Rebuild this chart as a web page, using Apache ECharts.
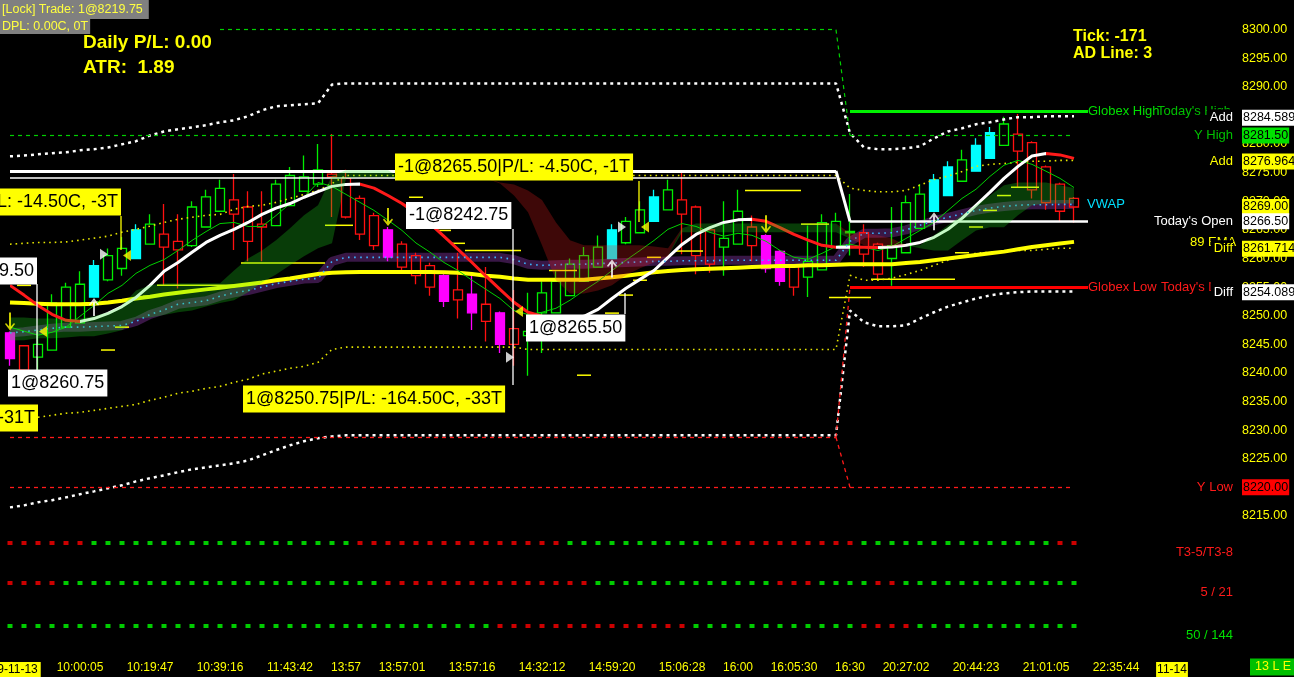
<!DOCTYPE html>
<html>
<head>
<meta charset="utf-8">
<script src="https://cdn.jsdelivr.net/npm/echarts@6/dist/echarts.min.js"></script>
<style>
html,body{margin:0;padding:0;background:#000;overflow:hidden;}
#chart{width:1294px;height:677px;}
</style>
</head>
<body>
<div id="chart"></div>
<script>
// ================= DATA =================
const tickIndex = [0,5,10,15,20,24,28,33,38,43,48,52,56,60,64,69,74,79,83];
const tickText  = ['9-11-13','10:00:05','10:19:47','10:39:16','11:43:42','13:57','13:57:01','13:57:16','14:32:12','14:59:20','15:06:28','16:00','16:05:30','16:30','20:27:02','20:44:23','21:01:05','22:35:44','11-14'];

// [open, close, low, high]
const candles = [
[8247.00,8242.50,8241.25,8247.25],[8244.75,8240.50,8240.50,8244.75],[8242.75,8245.00,8240.00,8247.50],
[8244.00,8252.25,8244.00,8253.75],[8248.00,8255.00,8248.00,8255.75],[8248.75,8255.50,8248.75,8257.75],
[8253.25,8258.75,8253.25,8259.75],[8256.25,8260.50,8256.00,8261.75],[8258.25,8261.75,8257.00,8263.75],
[8260.00,8265.00,8260.00,8266.00],[8262.50,8266.00,8262.50,8267.75],[8264.25,8262.00,8255.25,8269.50],
[8263.00,8261.50,8254.75,8267.75],[8262.25,8269.00,8262.00,8270.00],[8265.50,8270.75,8265.50,8272.00],
[8268.25,8272.25,8268.25,8273.75],[8270.25,8267.75,8261.50,8274.75],[8269.00,8263.00,8259.50,8271.75],
[8266.00,8265.50,8259.50,8271.75],[8265.75,8273.00,8265.75,8273.75],[8269.25,8274.50,8269.25,8276.00],
[8271.75,8274.25,8271.75,8278.00],[8273.00,8275.50,8272.50,8280.00],[8274.75,8274.25,8267.25,8281.75],
[8274.00,8267.25,8267.00,8275.50],[8270.50,8264.25,8263.25,8271.00],[8267.50,8262.25,8261.50,8268.00],
[8265.00,8260.25,8259.50,8265.50],[8262.50,8258.50,8258.00,8263.00],[8260.50,8257.00,8255.50,8261.00],
[8258.75,8255.00,8253.50,8259.25],[8257.00,8252.50,8251.50,8257.25],[8254.50,8252.75,8249.50,8261.00],
[8253.75,8250.50,8247.50,8257.50],[8252.00,8249.00,8245.50,8258.50],[8250.50,8245.00,8243.50,8250.75],
[8247.75,8245.00,8241.25,8254.50],[8246.50,8247.25,8239.50,8254.00],[8250.50,8254.00,8243.50,8256.00],
[8250.50,8256.00,8250.50,8257.75],[8253.50,8259.00,8253.50,8260.00],[8256.00,8260.50,8256.00,8262.00],
[8258.50,8262.00,8258.50,8264.00],[8260.00,8265.00,8260.00,8266.00],[8262.75,8266.50,8262.50,8267.25],
[8264.50,8268.50,8264.50,8270.00],[8266.50,8270.75,8266.50,8272.00],[8268.50,8272.00,8268.50,8273.75],
[8270.25,8267.75,8260.75,8275.00],[8269.00,8260.50,8257.25,8269.25],[8265.00,8259.00,8257.50,8265.25],
[8262.00,8263.50,8257.00,8270.00],[8262.50,8268.25,8262.50,8272.00],[8265.50,8262.25,8259.50,8267.50],
[8264.00,8258.25,8257.50,8264.25],[8261.25,8256.00,8255.25,8261.50],[8258.75,8255.00,8253.50,8259.00],
[8256.75,8259.50,8253.25,8265.75],[8258.00,8266.25,8258.00,8267.75],[8262.00,8266.50,8262.00,8268.00],
[8264.50,8264.75,8260.50,8271.25],[8264.50,8260.75,8258.50,8266.00],[8262.50,8257.25,8256.25,8262.75],
[8260.00,8262.25,8255.25,8269.00],[8261.00,8269.75,8261.00,8271.00],[8265.25,8271.25,8265.25,8273.00],
[8268.25,8273.75,8268.25,8274.75],[8271.00,8276.00,8271.00,8277.00],[8273.50,8277.25,8273.50,8279.00],
[8275.25,8279.75,8275.25,8281.00],[8277.50,8282.00,8277.50,8283.00],[8279.75,8283.50,8279.75,8284.75],
[8281.75,8278.75,8272.50,8285.25],[8280.25,8272.00,8270.50,8280.50],[8276.00,8269.75,8268.50,8276.25],
[8273.00,8268.25,8266.50,8273.25],[8270.50,8269.00,8266.25,8270.75]
];
const filledBars = [0,6,9,27,31,33,35,43,46,54,55,66,67,69,70];

const t3Line = [8255.3,8253.6,8251.8,8250.25,8249.2,8249.0,8249.5,8250.4,8251.6,8253.2,
 8255.3,8257.75,8259.3,8261.1,8262.8,8264.05,8265.1,8266.3,8267.7,8268.8,
 8269.6,8270.7,8271.7,8272.6,8272.95,8273.0,8272.3,8271.0,8269.6,8267.9,
 8266.1,8263.85,8261.6,8259.3,8256.9,8254.6,8252.35,8250.6,8249.9,8249.5,
 8249.45,8249.9,8251.1,8253.0,8254.8,8256.35,8257.9,8260.2,8262.45,8264.2,
 8265.4,8266.3,8266.75,8266.85,8266.5,8265.4,8264.2,8263.2,8262.3,8261.95,
 8262.0,8261.95,8261.9,8262.0,8262.3,8262.8,8263.7,8265.1,8267.0,8269.3,
 8271.6,8274.0,8276.1,8277.9,8278.35,8278.1,8277.5];

const fastMA = [8248.0,8247.3,8246.6,8247.1,8248.0,8249.9,8251.8,8253.9,8255.3,8257.4,
 8258.8,8259.8,8261.4,8263.15,8264.7,8266.1,8266.3,8265.6,8265.6,8267.5,
 8269.6,8270.7,8273.3,8272.6,8271.2,8269.8,8268.4,8266.7,8264.9,8262.7,
 8261.1,8259.3,8257.9,8256.2,8254.6,8253.0,8250.9,8250.2,8250.6,8251.3,
 8252.7,8254.4,8256.0,8257.9,8259.7,8261.4,8263.15,8265.1,8266.1,8265.6,
 8264.55,8263.9,8264.4,8264.05,8263.0,8261.4,8260.2,8259.85,8260.9,8262.1,
 8262.5,8261.95,8261.4,8262.1,8263.5,8264.9,8266.3,8268.4,8270.5,8272.1,
 8274.35,8276.3,8277.15,8276.45,8275.25,8274.0,8272.4];

const ema89 = [8252.3,8252.2,8252.1,8252.0,8252.0,8252.0,8252.1,8252.3,8252.6,8253.0,
 8253.3,8253.7,8254.0,8254.3,8254.6,8254.9,8255.2,8255.5,8255.8,8256.2,
 8256.5,8256.9,8257.3,8257.5,8257.6,8257.65,8257.65,8257.65,8257.65,8257.65,
 8257.65,8257.6,8257.5,8257.3,8257.0,8256.8,8256.5,8256.3,8256.3,8256.3,
 8256.3,8256.3,8256.5,8256.7,8257.0,8257.3,8257.6,8257.8,8258.0,8258.1,
 8258.2,8258.3,8258.4,8258.5,8258.6,8258.7,8258.7,8258.8,8258.8,8258.9,
 8259.0,8259.0,8259.0,8259.0,8259.2,8259.4,8259.7,8260.0,8260.3,8260.6,
 8260.9,8261.2,8261.6,8262.0,8262.3,8262.6,8262.9];

const vwap = [8247.0,8247.2,8247.5,8247.8,8248.0,8248.0,8248.1,8248.2,8248.3,8249.0,
 8250.2,8251.0,8252.0,8252.3,8252.6,8253.4,8254.0,8254.4,8255.0,8255.6,
 8256.0,8256.4,8256.5,8259.5,8260.2,8260.2,8260.2,8260.2,8260.2,8260.2,
 8260.2,8260.2,8260.2,8260.2,8260.2,8260.2,8259.8,8259.0,8258.8,8258.9,
 8259.0,8259.0,8259.1,8259.2,8259.3,8259.4,8259.5,8259.5,8259.6,8259.6,
 8259.6,8259.7,8259.7,8259.7,8259.7,8259.7,8259.7,8259.7,8259.7,8259.7,
 8263.0,8264.4,8264.4,8264.5,8265.0,8265.8,8266.6,8267.2,8267.8,8268.4,
 8268.8,8269.1,8269.3,8269.4,8269.4,8269.45,8269.45];

const cloudA = [8249.7,8249.7,8249.5,8249.5,8249.4,8249.5,8249.9,8250.6,8251.8,8254.4,
 8255.3,8255.65,8255.65,8255.65,8255.65,8255.65,8257.9,8260.0,8261.4,8263.2,
 8265.3,8267.55,8269.3,8274.5,8275.4,8275.4,8275.4,8275.4,8274.0,8274.0,
 8274.0,8274.0,8274.0,8274.0,8274.0,8273.1,8271.0,8268.1,8262.3,8256.2,
 8253.9,8253.9,8254.4,8255.3,8257.05,8258.3,8259.3,8260.4,8265.3,8266.1,
 8266.1,8266.1,8266.1,8266.1,8266.1,8266.1,8266.1,8266.1,8266.1,8266.1,
 8263.5,8262.3,8262.1,8262.1,8262.3,8262.3,8264.05,8265.8,8267.55,8269.3,
 8271.0,8272.8,8273.3,8273.3,8273.3,8272.8,8272.3];
const cloudB = [8245.7,8245.7,8246.05,8246.05,8246.2,8246.4,8246.4,8246.9,8247.45,8249.5,
 8249.7,8250.1,8250.6,8250.9,8251.6,8252.2,8252.7,8254.1,8255.8,8257.2,
 8258.8,8260.4,8261.8,8262.65,8274.0,8274.2,8274.2,8274.2,8274.0,8274.0,
 8274.0,8274.0,8274.0,8274.0,8274.0,8273.3,8272.95,8271.9,8270.2,8266.3,
 8263.2,8262.3,8262.3,8262.3,8262.3,8262.3,8262.1,8261.8,8264.6,8264.6,
 8264.6,8264.6,8264.6,8264.6,8264.6,8264.6,8264.6,8264.6,8264.6,8264.6,
 8264.4,8264.4,8264.05,8263.5,8262.3,8261.8,8261.4,8261.4,8263.2,8264.9,
 8265.45,8265.45,8267.55,8269.3,8269.6,8269.6,8269.6];

const bandUpperOuter = [8277.85,8278.0,8278.2,8278.4,8278.55,8278.9,8279.1,8279.4,8279.95,8280.5,
 8281.5,8282.2,8282.6,8282.9,8283.3,8283.8,8284.15,8284.85,8285.9,8286.6,
 8286.75,8286.95,8287.1,8290.4,8290.6,8290.6,8290.6,8290.6,8290.6,8290.6,
 8290.6,8290.6,8290.6,8290.6,8290.6,8290.6,8290.6,8290.6,8290.6,8290.6,
 8290.6,8290.6,8290.6,8290.6,8290.6,8290.6,8290.6,8290.6,8290.6,8290.6,
 8290.6,8290.6,8290.6,8290.6,8290.6,8290.6,8290.6,8290.6,8290.6,8290.6,
 8281.9,8279.4,8279.1,8279.1,8279.25,8279.6,8281.0,8282.2,8282.75,8283.45,
 8283.8,8284.3,8284.7,8284.7,8284.85,8284.85,8284.85];
const bandLowerOuter = [8216.5,8216.85,8217.4,8217.75,8218.25,8218.8,8219.3,8219.85,8220.35,8221.05,
 8221.6,8222.1,8222.65,8223.15,8223.5,8223.85,8224.2,8224.7,8225.6,8226.5,
 8227.35,8228.05,8228.6,8228.9,8229.1,8229.1,8229.1,8229.1,8229.1,8229.1,
 8229.1,8229.1,8229.1,8229.1,8229.1,8229.1,8229.1,8229.1,8229.1,8229.1,
 8229.1,8229.1,8229.1,8229.1,8229.1,8229.1,8229.1,8229.1,8229.1,8229.1,
 8229.1,8229.1,8229.1,8229.1,8229.1,8229.1,8229.1,8229.1,8229.1,8229.1,
 8250.9,8248.85,8248.15,8248.15,8248.3,8249.5,8250.6,8251.6,8252.3,8253.0,
 8253.55,8253.9,8254.1,8254.25,8254.25,8254.25,8254.25];
const bandUpperInner = [8262.5,8262.65,8262.8,8262.8,8262.9,8263.2,8263.55,8263.9,8264.6,8265.1,
 8265.65,8266.3,8266.85,8267.2,8267.55,8267.7,8268.6,8269.1,8269.3,8269.8,
 8270.5,8271.2,8271.9,8273.1,8274.5,8274.5,8274.5,8274.5,8274.5,8274.5,
 8274.5,8274.5,8274.5,8274.5,8274.5,8274.5,8274.5,8274.5,8274.5,8274.5,
 8274.5,8274.5,8274.5,8274.5,8274.5,8274.5,8274.5,8274.5,8274.5,8274.5,
 8274.5,8274.5,8274.5,8274.5,8274.5,8274.5,8274.5,8274.5,8274.5,8274.5,
 8272.3,8271.9,8271.65,8271.65,8271.9,8272.8,8273.8,8274.4,8275.2,8276.1,
 8276.45,8276.6,8276.8,8277.0,8277.0,8277.15,8277.15];
const bandLowerInner = [8232.05,8232.15,8232.25,8232.6,8232.95,8233.1,8233.45,8233.8,8234.15,8234.5,
 8235.2,8235.75,8236.45,8236.8,8237.3,8237.65,8238.35,8238.9,8239.8,8240.3,
 8240.8,8241.15,8241.85,8244.1,8244.5,8244.5,8244.5,8244.5,8244.5,8244.5,
 8244.5,8244.5,8244.5,8244.5,8244.5,8244.5,8244.5,8244.1,8244.1,8244.1,
 8244.1,8244.1,8244.1,8244.1,8244.1,8244.1,8244.1,8244.1,8244.1,8244.1,
 8244.1,8244.1,8244.1,8244.1,8244.1,8244.1,8244.1,8244.1,8244.1,8244.1,
 8257.05,8256.2,8256.2,8256.55,8257.2,8257.9,8258.8,8259.7,8260.4,8260.9,
 8261.1,8261.25,8261.4,8261.4,8261.6,8261.8,8261.8];

// [startBar, endBar, price]
const pivotSegs = [[1,1,8255.3],[7,7,8244.0],[8,8,8248.0],[10,10,8253.4],[11,16,8255.3],[17,22,8259.2],
 [23,24,8265.8],[29,29,8270.7],[31,31,8264.9],[32,32,8262.65],[33,36,8261.4],[39,40,8257.9],
 [41,41,8239.6],[43,43,8250.45],[44,44,8253.6],[45,45,8256.2],[46,46,8260.2],[48,49,8261.3],
 [53,56,8271.9],[57,58,8266.0],[59,61,8253.2],[62,67,8256.35],[68,68,8261.0],[69,69,8265.5],
 [70,70,8268.4],[71,71,8271.0],[72,73,8272.45]];

const sellSignals = [0,27,54];
const buySignals = [6,43,66];
const entryMarks = [[7,8260.75],[36,8242.75],[44,8265.50]];
const exitMarks = [[2,8247.25],[8,8260.50],[36,8250.75],[45,8265.50]];

const prevHigh = 8300.00, yHigh = 8281.50, globexHigh = 8285.75;
const priorOpen = 8275.30, priorOpen2 = 8274.10, todayOpen = 8266.50;
const globexLow = 8255.00, priorLow = 8228.75, yLow = 8220.00;
const sessionBreak = 60, lastBar = 76, lineEnd = 77, prevHighStart = 15;

const priceBoxes = ['8284.589','8281.50','8276.964','8269.00','8266.50','8261.714','8254.089','8220.00'];
const rightTags = [['Globex High',8285.75],["Today's High",8285.75],['Add',8284.589],['Y High',8281.50],
 ['Add',8276.964],['VWAP',8269.45],["Today's Open",8266.50],['89 EMA',8262.80],['Diff',8261.714],
 ['Globex Low',8255.00],["Today's Low",8255.00],['Diff',8254.089],['Y Low',8220.00]];

const row1Switches = [[0,'r'],[6,'g'],[25,'r'],[40,'g'],[51,'r'],[61,'g'],[75,'r']];
const row2Switches = [[0,'r'],[4,'g'],[27,'r'],[42,'g'],[55,'r'],[58,'g'],[62,'r'],[64,'g']];
const row3Switches = [[0,'g'],[35,'r'],[49,'g'],[61,'r'],[65,'g']];
const rowNames = ['T3-5/T3-8','5 / 21','50 / 144'];

// ================= BUILD =================
const FONT = 'Liberation Sans';
const NCAT = 88;
const xCats = Array.from({length: NCAT}, (_, i) => String(i));
const GL = 3, GR = 59;

const chart = echarts.init(document.getElementById('chart'), null, {renderer: 'canvas'});

const candleData = candles.map((c, i) => {
  const up = c[1] >= c[0];
  const filled = filledBars.indexOf(i) >= 0;
  const col = up ? (filled ? '#00ffff' : '#00ee00') : (filled ? '#ff00ff' : '#ff1010');
  const fill = filled ? col : 'rgba(0,0,0,0)';
  return {value: c, itemStyle: {color: fill, color0: fill, borderColor: col, borderColor0: col, borderColorDoji: col, borderWidth: 1.3}};
});

// T3 coloured by direction
const t3Pieces = [];
let segStart = 0, segUp = t3Line[1] >= t3Line[0];
for (let i = 1; i < t3Line.length; i++) {
  const up = t3Line[i] >= t3Line[i - 1];
  if (up !== segUp) {
    t3Pieces.push({gte: segStart, lt: i - 1, color: segUp ? '#ffffff' : '#ff1a1a'});
    segStart = i - 1; segUp = up;
  }
}
t3Pieces.push({gte: segStart, lte: NCAT, color: segUp ? '#ffffff' : '#ff1a1a'});

const cloudBase = cloudA.map((a, i) => Math.min(a, cloudB[i]));
const cloudUp = cloudA.map((a, i) => Math.max(a - cloudB[i], 0));
const cloudDn = cloudA.map((a, i) => Math.max(cloudB[i] - a, 0));

function expandRow(sw) {
  const out = [];
  for (let i = 0; i < candles.length; i++) {
    let s = sw[0][1];
    for (const [k, v] of sw) if (i >= k) s = v;
    out.push(s);
  }
  return out;
}
const rows = [row1Switches, row2Switches, row3Switches].map(expandRow);
const rowTops = [539, 579, 622];

const ARROW_DOWN = 'path://M4,0 L6,0 L6,13 L9,10 L10,11 L5,17 L0,11 L1,10 L4,13 Z';
const ARROW_UP = 'path://M5,0 L10,6 L9,7 L6,4 L6,17 L4,17 L4,4 L1,7 L0,6 Z';
const TRI_RIGHT = 'path://M0,0 L10,6 L0,12 Z';
const TRI_LEFT = 'path://M10,0 L0,6 L10,12 Z';

function lineSeries(name, data, color, width, type, z) {
  return {name, type: 'line', data, showSymbol: false, symbol: 'none', silent: true, z: z || 4,
    lineStyle: {color, width, type: type || 'solid'}, animation: false};
}

const boxColors = ['#ffffff','#00e000','#ffff00','#ffff00','#ffffff','#ffff00','#ffffff','#ff0000'];

const grids = [{left: GL, right: GR, top: 1, bottom: 18, containLabel: false, outerBoundsMode: 'none'}];
const xAxes = [{
  type: 'category', data: xCats, gridIndex: 0, boundaryGap: true,
  axisLine: {show: false}, axisTick: {show: false}, splitLine: {show: false},
  axisLabel: {
    interval: 0, showMinLabel: true, showMaxLabel: true, color: '#ffff00', fontSize: 12, fontFamily: FONT, margin: 3,
    formatter: (v) => {
      const k = tickIndex.indexOf(parseInt(v, 10));
      if (k < 0) return '';
      if (k === 0) return '{first|' + tickText[k] + '}';
      if (k === tickText.length - 1) return '{box|' + tickText[k] + '}';
      return tickText[k];
    },
    rich: {
      first: {backgroundColor: '#ffff00', color: '#000', fontSize: 12, fontFamily: FONT, padding: [2, 3, 1, 18]},
      box: {backgroundColor: '#ffff00', color: '#000', fontSize: 12, fontFamily: FONT, padding: [2, 1, 1, 1]}
    }
  }
}];
const yAxes = [{
  type: 'value', gridIndex: 0, position: 'right', min: 8190, max: 8305, interval: 5,
  splitLine: {show: false}, axisLine: {show: false}, axisTick: {show: false},
  axisLabel: {color: '#ffff00', fontSize: 12.5, fontFamily: FONT, margin: 7,
    formatter: v => (v >= 8215 && v <= 8300) ? v.toFixed(2) : ''}
}];
rowTops.forEach((t, r) => {
  grids.push({left: GL, right: GR, top: t, height: 8, containLabel: false, outerBoundsMode: 'none'});
  xAxes.push({type: 'category', data: xCats, gridIndex: r + 1, show: false, boundaryGap: true});
  yAxes.push({type: 'value', gridIndex: r + 1, min: -1, max: 1, show: false});
});

const series = [];
// VWAP band
series.push(lineSeries('vwapBand', vwap, 'rgba(60,24,74,0.95)', 9, 'solid', 2));
// candles
series.push({type: 'candlestick', name: 'price', data: candleData, barWidth: 9, z: 3, silent: true, animation: false});
// bands
series.push(lineSeries('upperOuter', bandUpperOuter, '#ffffff', 2.5, [3, 4], 4));
series.push(lineSeries('lowerOuter', bandLowerOuter, '#ffffff', 2.5, [3, 4], 4));
series.push(lineSeries('upperInner', bandUpperInner, '#e6e600', 1.6, [1.6, 4], 4));
series.push(lineSeries('lowerInner', bandLowerInner, '#e6e600', 1.6, [1.6, 4], 4));
// ema89
series.push(lineSeries('ema89', ema89, '#ffff00', 4, 'solid', 5));
// fast MA
series.push(lineSeries('fastMA', fastMA, '#00d000', 1, 'solid', 5));
// T3 (colour from visualMap)
const T3_INDEX = series.length;
series.push({name: 't3', type: 'line', data: t3Line, showSymbol: false, symbol: 'none', silent: true, z: 6,
  lineStyle: {width: 3}, animation: false});
// vwap dotted
series.push(lineSeries('vwap', vwap, '#3cb4ff', 1.6, [1.6, 4.5], 6));
// step / level lines
function seg(a, b, style) { return [{coord: a, lineStyle: style}, {coord: b, lineStyle: style}]; }
const gDash = {color: '#00d000', width: 1.2, type: [4, 4]};
const rDash = {color: '#ff1a1a', width: 1.3, type: [4, 4]};
const wThick = {color: '#ffffff', width: 3, type: 'solid'};
series.push({type: 'line', name: 'levels', data: [], z: 4, silent: true,
  markLine: {silent: true, symbol: ['none', 'none'], animation: false, label: {show: false},
    data: [
      seg([prevHighStart, prevHigh], [sessionBreak - 1, prevHigh], gDash),
      seg([sessionBreak - 1, prevHigh], [sessionBreak, yHigh], gDash),
      seg([0, yHigh], [lastBar, yHigh], gDash),
      seg([sessionBreak, globexHigh], [lineEnd, globexHigh], {color: '#00f000', width: 3, type: 'solid'}),
      seg([0, priorOpen], [sessionBreak - 1, priorOpen], wThick),
      seg([sessionBreak - 1, priorOpen], [sessionBreak, todayOpen], wThick),
      seg([sessionBreak, todayOpen], [lineEnd, todayOpen], {color: '#ffffff', width: 2.5, type: 'solid'}),
      seg([0, priorOpen2], [sessionBreak - 1, priorOpen2], {color: '#ffffff', width: 1.5, type: 'solid'}),
      seg([sessionBreak, globexLow], [lineEnd, globexLow], {color: '#ff0000', width: 3, type: 'solid'}),
      seg([0, priorLow], [sessionBreak - 1, priorLow], rDash),
      seg([sessionBreak - 1, priorLow], [sessionBreak, yLow], rDash),
      seg([sessionBreak - 1, priorLow], [sessionBreak, globexLow], rDash),
      seg([0, yLow], [lastBar, yLow], rDash)
    ]}
});
// price boxes on the axis
series.push({type: 'line', name: 'boxes', data: [], z: 9, silent: true,
  markLine: {silent: true, symbol: ['none', 'none'], animation: false,
    data: priceBoxes.map((s, i) => ({yAxis: parseFloat(s), lineStyle: {color: 'rgba(0,0,0,0)', width: 0, opacity: 1},
      label: {show: true, position: 'end', distance: 7, formatter: s, color: '#000', opacity: 1,
        backgroundColor: boxColors[i], padding: [2, 1, 1, 1], fontSize: 12.5, fontFamily: FONT}}))}
});
// pivot segments
series.push({type: 'custom', name: 'pivots', data: pivotSegs, z: 4, silent: true,
  encode: {x: [0, 1], y: 2},
  renderItem: (params, api) => {
    const a = api.coord([api.value(0), api.value(2)]);
    const b = api.coord([api.value(1), api.value(2)]);
    const hw = api.size([1, 0])[0] * 0.5;
    return {type: 'line', shape: {x1: a[0] - hw, y1: a[1], x2: b[0] + hw, y2: b[1]},
      style: {stroke: '#ffff00', lineWidth: 1.5}};
  }
});
// cloud (drawn translucent over the lines)
series.push({type: 'line', name: 'cloudBase', data: cloudBase, stack: 'cloud', stackStrategy: 'all',
  symbol: 'none', showSymbol: false, silent: true, z: 7, lineStyle: {opacity: 0, width: 0}});
series.push({type: 'line', name: 'cloudUp', data: cloudUp, stack: 'cloud', stackStrategy: 'all',
  symbol: 'none', showSymbol: false, silent: true, z: 7, lineStyle: {opacity: 0, width: 0},
  areaStyle: {color: 'rgba(30,230,30,0.26)', opacity: 1}});
series.push({type: 'line', name: 'cloudDn', data: cloudDn, stack: 'cloud', stackStrategy: 'all',
  symbol: 'none', showSymbol: false, silent: true, z: 7, lineStyle: {opacity: 0, width: 0},
  areaStyle: {color: 'rgba(240,30,30,0.26)', opacity: 1}});
// markers
const markerData = [];
sellSignals.forEach(i => markerData.push({value: [i, candles[i][3]], symbol: ARROW_DOWN, symbolSize: [10, 18], symbolOffset: [0, -10], itemStyle: {color: '#ffff00'}}));
buySignals.forEach((i, k) => markerData.push({value: [i, candles[i][2]], symbol: ARROW_UP, symbolSize: [10, 18], symbolOffset: [0, 10], itemStyle: {color: '#ffffff'}}));
entryMarks.forEach(m => markerData.push({value: m, symbol: TRI_RIGHT, symbolSize: [8, 11], symbolOffset: [-4, 0], itemStyle: {color: '#ffffff'}}));
exitMarks.forEach(m => markerData.push({value: m, symbol: TRI_LEFT, symbolSize: [8, 11], symbolOffset: [5, 0], itemStyle: {color: '#ffff00'}}));
series.push({type: 'scatter', name: 'markers', data: markerData, z: 8, silent: true, animation: false});
// indicator rows
rows.forEach((row, r) => {
  series.push({type: 'scatter', xAxisIndex: r + 1, yAxisIndex: r + 1, silent: true, animation: false,
    symbol: 'rect', symbolSize: [5, 4],
    data: row.map((s, i) => ({value: [i, 0], itemStyle: {color: s === 'g' ? '#00ff00' : '#ff0000'}}))});
});

chart.setOption({
  backgroundColor: '#000000',
  animation: false,
  grid: grids, xAxis: xAxes, yAxis: yAxes,
  visualMap: [{type: 'piecewise', show: false, dimension: 0, seriesIndex: T3_INDEX, pieces: t3Pieces}],
  series
});

// ================= TEXT OVERLAYS =================
function py(p) { return chart.convertToPixel({yAxisIndex: 0}, p); }
function txt(x, y, text, o) {
  o = o || {};
  const st = {text, fill: o.color || '#000', font: (o.weight || '') + ' ' + (o.size || 18) + 'px "' + FONT + '"',
    align: o.align || 'left', verticalAlign: o.valign || 'middle',
    textAlign: o.align || 'left', textVerticalAlign: o.valign || 'middle'};
  if (o.bg) { st.backgroundColor = o.bg; st.padding = o.pad || [5, 3, 4, 3]; }
  return {type: 'text', x, y, z: o.z || 100, silent: true, style: st};
}
function ln(x1, y1, x2, y2, c) {
  return {type: 'line', z: 99, silent: true, shape: {x1, y1, x2, y2}, style: {stroke: c, lineWidth: 1.3}};
}
const g = [];
// header boxes
g.push(txt(0, 0, '[Lock] Trade: 1@8219.75', {color: '#ffff40', size: 12.5, bg: '#808080', pad: [3, 6, 3, 2], valign: 'top'}));
g.push(txt(0, 19, 'DPL: 0.00C, 0T', {color: '#ffff40', size: 12.5, bg: '#808080', pad: [1, 2, 1, 2], valign: 'top'}));
g.push(txt(83, 43, 'Daily P/L: 0.00', {color: '#ffff00', size: 19, weight: 'bold'}));
g.push(txt(83, 68, 'ATR:  1.89', {color: '#ffff00', size: 19, weight: 'bold'}));
g.push(txt(1073, 37, 'Tick: -171', {color: '#ffff00', size: 16, weight: 'bold'}));
g.push(txt(1073, 54, 'AD Line: 3', {color: '#ffff00', size: 16, weight: 'bold'}));
// trade annotations
g.push(ln(121, 216, 121, 250, '#ffff00'));
g.push(ln(37, 284, 37, 372, '#ffffff'));
g.push(ln(639, 181, 639, 222, '#ffff00'));
g.push(ln(513, 229, 513, 385, '#ffffff'));
g.push(ln(625, 293, 625, 314, '#ffffff'));
g.push(txt(121, 202, 'L: -14.50C, -3T', {bg: '#ffff00', align: 'right'}));
g.push(txt(37, 271, '9.50', {bg: '#ffffff', align: 'right'}));
g.push(txt(8, 383, '1@8260.75', {bg: '#ffffff'}));
g.push(txt(38, 418, '-31T', {bg: '#ffff00', align: 'right'}));
g.push(txt(395, 167, '-1@8265.50|P/L: -4.50C, -1T', {bg: '#ffff00'}));
g.push(txt(406, 215.5, '-1@8242.75', {bg: '#ffffff'}));
g.push(txt(526, 328, '1@8265.50', {bg: '#ffffff'}));
g.push(txt(243, 399, '1@8250.75|P/L: -164.50C, -33T', {bg: '#ffff00'}));
// right tags
const tagStyles = [
  {x: 1088, align: 'left', color: '#00e000'}, {x: 1157, align: 'left', color: '#00c000'},
  {x: 1233, align: 'right', color: '#ffffff', bg: '#000'}, {x: 1233, align: 'right', color: '#00c000'},
  {x: 1233, align: 'right', color: '#ffff00'}, {x: 1087, align: 'left', color: '#00e0ff'},
  {x: 1233, align: 'right', color: '#ffffff'}, {x: 1190, align: 'left', color: '#ffff00'},
  {x: 1233, align: 'right', color: '#ffff00', bg: '#000'}, {x: 1088, align: 'left', color: '#ff1a1a'},
  {x: 1161, align: 'left', color: '#ff1a1a'}, {x: 1233, align: 'right', color: '#ffffff', bg: '#000'},
  {x: 1233, align: 'right', color: '#ff1a1a'}];
rightTags.forEach(([t, p], i) => {
  const s = tagStyles[i];
  g.push(txt(s.x, py(p), t, {color: s.color, size: 13, align: s.align, bg: s.bg, pad: [2, 0, 2, 3], z: s.bg ? 102 : 101}));
});
// indicator row names
const rowColors = ['#ff1a1a', '#ff1a1a', '#00e000'];
rowNames.forEach((t, r) => g.push(txt(1233, rowTops[r] + 13, t, {color: rowColors[r], size: 13, align: 'right'})));
// status box
g.push(txt(1250, 667, '13 L E', {color: '#ffff00', size: 12.5, bg: '#00c000', pad: [2, 5, 2, 5]}));

chart.setOption({graphic: g});
</script>
</body>
</html>
